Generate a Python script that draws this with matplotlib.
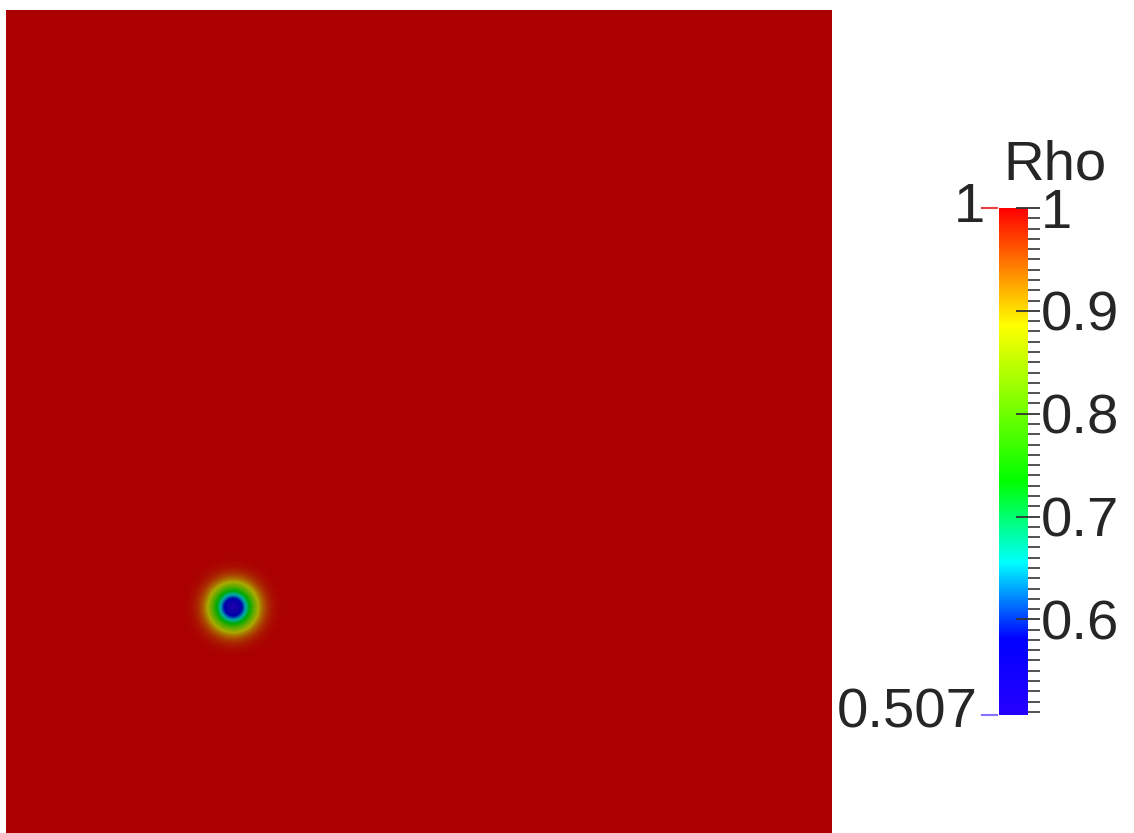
#!/usr/bin/env python3

import numpy as np
import matplotlib
matplotlib.use("Agg")
import matplotlib.pyplot as plt
from matplotlib.colors import LinearSegmentedColormap, Normalize
from matplotlib.cm import ScalarMappable
from matplotlib.transforms import blended_transform_factory

# field parameters (domain is the unit square)
RhoMin = 0.507
RhoMax = 1.0
BlobCentre = (0.275, 0.277)
BlobWidth = 0.0254
Shading = 0.667          # the rendered field is darker than the lookup table

# lookup table anchors (position in [0,1], rgb)
CmapPositions = [0.0, 0.15, 0.30, 0.46, 0.77, 1.0]
CmapColours = [(0.15, 0.0, 1.0), (0.0, 0.0, 1.0), (0.0, 1.0, 1.0),
               (0.0, 1.0, 0.0), (1.0, 1.0, 0.0), (1.0, 0.0, 0.0)]

MajorTicks = [0.6, 0.7, 0.8, 0.9, 1.0]
MajorLabels = ["0.6", "0.7", "0.8", "0.9", "1"]
MinorTicks = [round(0.51 + 0.01 * i, 2) for i in range(50)]

W, H = 1134, 833
Font = dict(family="Liberation Sans", size=40.5, color="#262626")


def px_rect(x0, y0, x1, y1):
    return [x0 / W, (H - y1) / H, (x1 - x0) / W, (y1 - y0) / H]


Cmap = LinearSegmentedColormap.from_list("rainbow", list(zip(CmapPositions, CmapColours)), N=256)
Norm = Normalize(vmin=RhoMin, vmax=RhoMax)

N = 826
g = (np.arange(N) + 0.5) / N
X, Y = np.meshgrid(g, g)
R2 = (X - BlobCentre[0]) ** 2 + (Y - BlobCentre[1]) ** 2
Rho = RhoMax - (RhoMax - RhoMin) * np.exp(-R2 / BlobWidth ** 2)
Rgb = Cmap(Norm(Rho))[..., :3] * Shading

fig = plt.figure(figsize=(W / 100, H / 100), dpi=100)

ax = fig.add_axes(px_rect(6, 10, 832, 836))
ax.imshow(Rgb, origin="lower", extent=[0, 1, 0, 1], interpolation="bilinear")
ax.set_axis_off()

cax = fig.add_axes(px_rect(999, 208, 1028, 715))
cb = fig.colorbar(ScalarMappable(norm=Norm, cmap=Cmap), cax=cax)
cb.outline.set_visible(False)
cax.set_ylim(RhoMin, RhoMax)
cax.set_yticks(MajorTicks)
cax.set_yticklabels(MajorLabels, **Font)
cax.set_yticks(MinorTicks, minor=True)
cax.tick_params(axis="y", which="major", direction="inout", length=17, width=1.3,
                color="#333333", pad=1)
cax.tick_params(axis="y", which="minor", direction="out", length=8.5, width=1.3,
                color="#444444")

# little range markers and labels on the left
tr = blended_transform_factory(cax.transAxes, cax.transData)
cax.plot([-0.58, -0.07], [RhoMax, RhoMax], color="#e84040", lw=1.5,
         transform=tr, clip_on=False)
cax.plot([-0.58, -0.07], [RhoMin, RhoMin], color="#8a70ff", lw=1.5,
         transform=tr, clip_on=False)
fig.text(985 / W, (H - 208) / H, "1", ha="right", va="center", **Font)
fig.text(978 / W, (H - 713) / H, "0.507", ha="right", va="center", **Font)
fig.text(1055 / W, (H - 180) / H, "Rho", ha="center", va="baseline", **Font)

fig.savefig("out.png", dpi=100)
